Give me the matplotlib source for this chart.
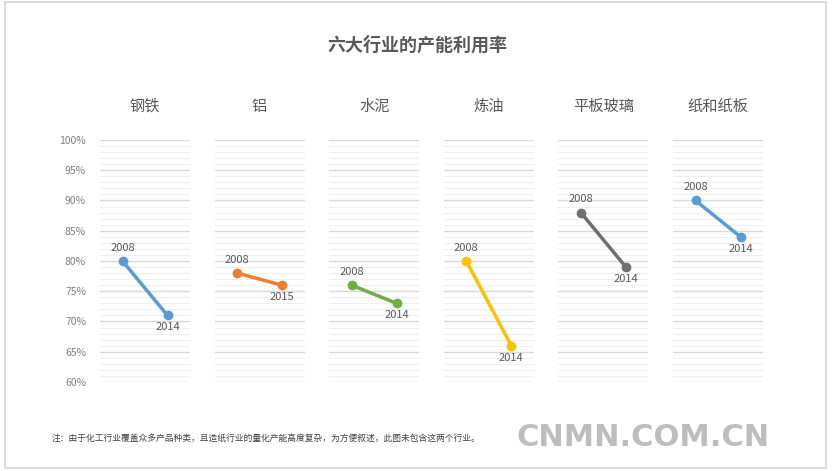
import matplotlib.pyplot as plt
from matplotlib.patches import Rectangle
from matplotlib.ticker import MultipleLocator, PercentFormatter

plt.rcParams['font.family'] = ['Noto Sans CJK SC', 'DejaVu Sans']

industries = ["钢铁", "铝", "水泥", "炼油", "平板玻璃", "纸和纸板"]
start_year = ["2008", "2008", "2008", "2008", "2008", "2008"]
end_year = ["2014", "2015", "2014", "2014", "2014", "2014"]
start_rate = [80, 78, 76, 80, 88, 90]
end_rate = [71, 76, 73, 66, 79, 84]
colors = ["#5B9BD5", "#ED7D31", "#70AD47", "#FFC000", "#6F6F6F", "#5B9BD5"]

W, H = 838, 471
fig = plt.figure(figsize=(W / 100, H / 100), dpi=100)
fig.patches.append(Rectangle((5 / W, 3 / H), 821 / W, 466 / H, transform=fig.transFigure,
                             fill=False, edgecolor="#d6d6d6", linewidth=1.2))

fig.text(417 / W, 1 - 45 / H, "六大行业的产能利用率", ha="center", va="center",
         fontsize=13, color="#595959", fontweight="bold")

text_c = "#595959"
for i, name in enumerate(industries):
    left = 100 + i * 114.6
    ax = fig.add_axes([left / W, 1 - 382 / H, 90 / W, 242 / H])
    ax.set_xlim(-0.5, 1.5)
    ax.set_ylim(60, 100)
    ax.yaxis.set_major_locator(MultipleLocator(5))
    ax.yaxis.set_minor_locator(MultipleLocator(1))
    ax.yaxis.set_major_formatter(PercentFormatter(decimals=0))
    ax.grid(axis="y", which="major", color="#d9d9d9", linewidth=1)
    ax.grid(axis="y", which="minor", color="#efefef", linewidth=0.8)
    ax.set_axisbelow(True)
    for s in ax.spines.values():
        s.set_visible(False)
    ax.set_xticks([])
    ax.tick_params(axis="y", which="both", length=0, labelsize=7.5, labelcolor="#7f7f7f", pad=10)
    if i > 0:
        ax.set_yticklabels([])

    ax.plot([0, 1], [start_rate[i], end_rate[i]], color=colors[i], linewidth=2.5,
            marker="o", markersize=6, clip_on=False, zorder=3)
    ax.annotate(start_year[i], (0, start_rate[i]), xytext=(0, 6), textcoords="offset points",
                ha="center", va="bottom", fontsize=8, color=text_c)
    ax.annotate(end_year[i], (1, end_rate[i]), xytext=(0, -5), textcoords="offset points",
                ha="center", va="top", fontsize=8, color=text_c)

    fig.text((left + 45) / W, 1 - 106 / H, name, ha="center", va="center",
             fontsize=11, color=text_c)

fig.text(52 / W, 1 - 438 / H,
         "注：由于化工行业覆盖众多产品种类，且造纸行业的量化产能高度复杂，为方便叙述，此图未包含这两个行业。",
         ha="left", va="center", fontsize=6.3, color="#404040")
fig.text(643 / W, 1 - 437 / H, "CNMN.COM.CN", ha="center", va="center",
         fontsize=22, color="#bdbdbd", fontweight="bold", family="DejaVu Sans")

fig.savefig("out.png", dpi=100, facecolor="white")
